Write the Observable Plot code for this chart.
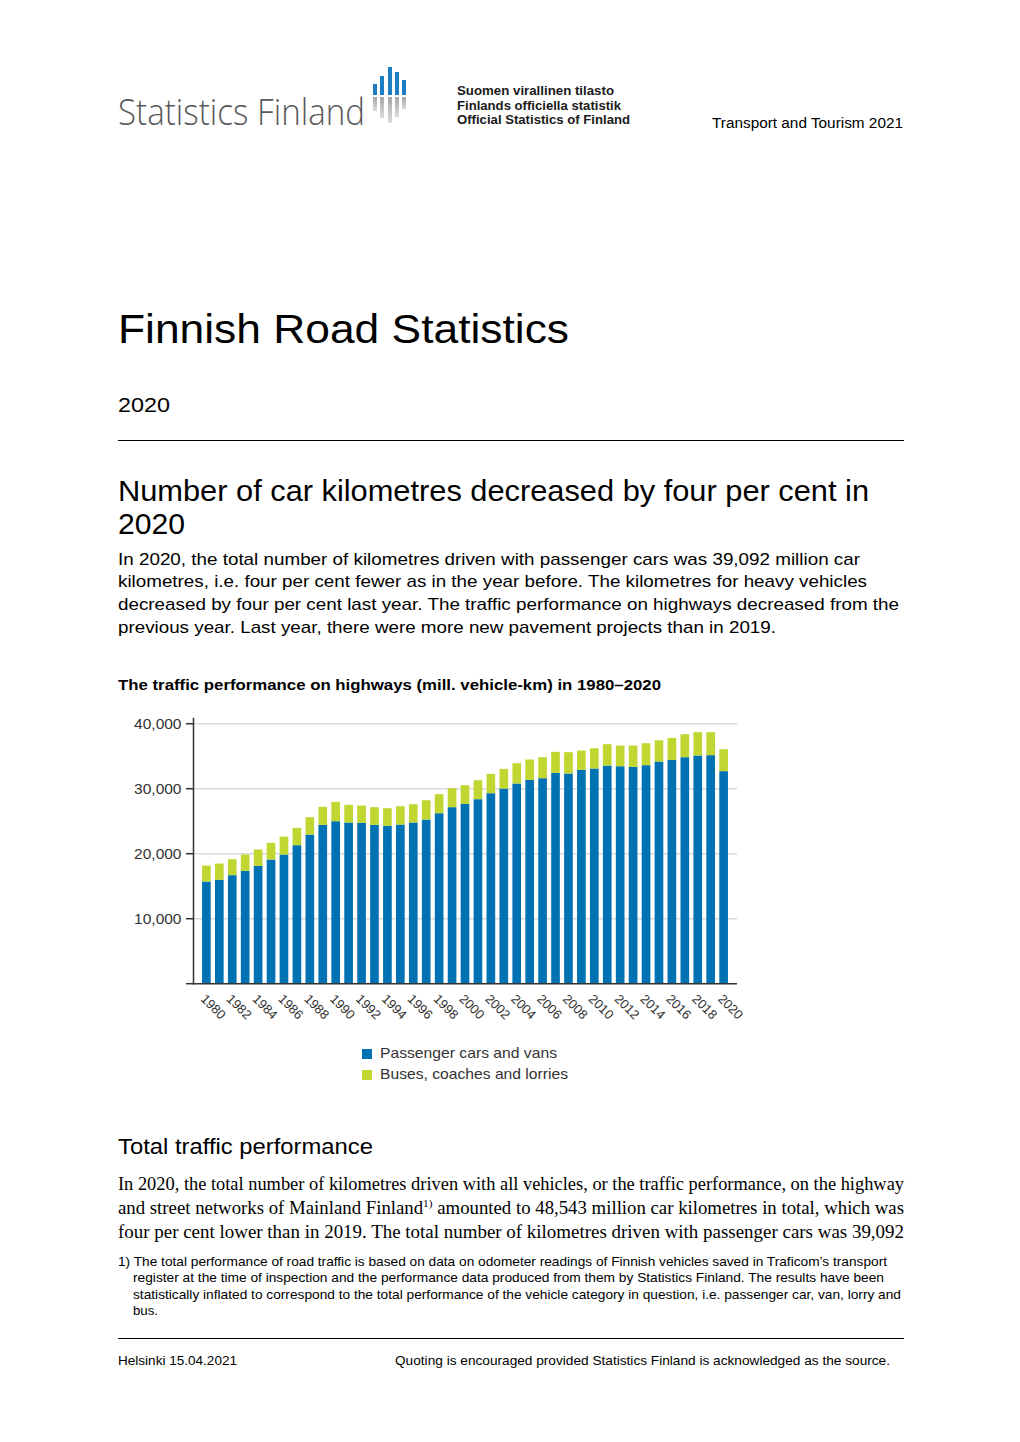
<!DOCTYPE html>
<html>
<head>
<meta charset="utf-8">
<script src="https://cdn.jsdelivr.net/npm/d3@7"></script>
<script src="https://cdn.jsdelivr.net/npm/@observablehq/plot@0.6"></script>
<style>
  html, body { margin: 0; padding: 0; background: #fff; }
  body { width: 1020px; height: 1442px; position: relative; overflow: hidden;
         font-family: "Liberation Sans", Arial, sans-serif; color: #000; }
  .abs { position: absolute; left: 118px; white-space: nowrap; }
  .rule { position: absolute; left: 118px; width: 786px; height: 0; border-top: 1px solid #000; }
  .fit { display: inline-block; white-space: nowrap; transform-origin: 0 0; }
  .logo-bar { position: absolute; width: 4px; }
  .legend-row { position: absolute; left: 362px; font-size: 14.5px; line-height: 21px; color: #333; white-space: nowrap; }
  .legend-row .sw { display: inline-block; width: 10px; height: 10px; margin-right: 8px; vertical-align: -1px; }
  sup { font-size: 60%; line-height: 0; vertical-align: 0; position: relative; top: -0.6em; }
</style>
</head>
<body>

<!-- Header -->
<div class="abs" style="top:92px; font-family:'Open Sans',sans-serif; font-weight:300; font-size:36px; line-height:40px; color:#58595b;">
  <span class="fit" data-w="247">Statistics Finland</span>
</div>
<div id="logo-bars"></div>
<div class="abs" style="left:457px; top:84px; font-family:'Liberation Sans',Arial,sans-serif; font-weight:700; font-size:13px; line-height:14.7px; color:#1a1a1a;">
  <div><span class="fit" data-w="157">Suomen virallinen tilasto</span></div>
  <div><span class="fit" data-w="164">Finlands officiella statistik</span></div>
  <div><span class="fit" data-w="173">Official Statistics of Finland</span></div>
</div>
<div class="abs" style="left:712px; top:115px; font-size:14px; line-height:16px;"><span class="fit" data-w="191">Transport and Tourism 2021</span></div>

<!-- Title -->
<div class="abs" style="top:306px; font-size:40px; line-height:46px;"><span class="fit" data-w="451">Finnish Road Statistics</span></div>
<div class="abs" style="top:392.7px; font-size:21px; line-height:24px;"><span class="fit" data-w="52">2020</span></div>
<div class="rule" style="top:440px;"></div>

<div class="abs" style="top:474px; font-size:30px; line-height:33px;">
  <div><span class="fit" data-w="751">Number of car kilometres decreased by four per cent in</span></div>
  <div><span class="fit" data-w="67">2020</span></div>
</div>
<div class="abs" style="top:548.8px; font-size:17px; line-height:22.6px;">
  <div><span class="fit" data-w="742">In 2020, the total number of kilometres driven with passenger cars was 39,092 million car</span></div>
  <div><span class="fit" data-w="749">kilometres, i.e. four per cent fewer as in the year before. The kilometres for heavy vehicles</span></div>
  <div><span class="fit" data-w="781">decreased by four per cent last year. The traffic performance on highways decreased from the</span></div>
  <div><span class="fit" data-w="658">previous year. Last year, there were more new pavement projects than in 2019.</span></div>
</div>

<div class="abs" style="top:675.8px; font-size:15px; line-height:18px; font-weight:bold;"><span class="fit" data-w="543">The traffic performance on highways (mill. vehicle-km) in 1980–2020</span></div>

<div id="chart" style="position:absolute; left:118px; top:703.1px;"></div>
<div id="legend"></div>

<div class="abs" style="top:1134.4px; font-size:22px; line-height:26px;"><span class="fit" data-w="255">Total traffic performance</span></div>
<div class="abs" style="top:1172px; font-family:'Liberation Serif','Times New Roman',serif; font-size:19px; line-height:24px;">
  <div><span class="fit" data-w="786">In 2020, the total number of kilometres driven with all vehicles, or the traffic performance, on the highway</span></div>
  <div><span class="fit" data-w="786">and street networks of Mainland Finland<sup>1)</sup> amounted to 48,543 million car kilometres in total, which was</span></div>
  <div><span class="fit" data-w="786">four per cent lower than in 2019. The total number of kilometres driven with passenger cars was 39,092</span></div>
</div>

<div class="abs" style="top:1253.8px; font-size:13px; line-height:16.4px; color:#000;">
  <div><span class="fit" data-w="769">1) The total performance of road traffic is based on data on odometer readings of Finnish vehicles saved in Traficom’s transport</span></div>
  <div style="padding-left:15px;"><span class="fit" data-w="751">register at the time of inspection and the performance data produced from them by Statistics Finland. The results have been</span></div>
  <div style="padding-left:15px;"><span class="fit" data-w="768">statistically inflated to correspond to the total performance of the vehicle category in question, i.e. passenger car, van, lorry and</span></div>
  <div style="padding-left:15px;"><span class="fit" data-w="25">bus.</span></div>
</div>
<div class="rule" style="top:1338px;"></div>
<div class="abs" style="top:1352.5px; font-size:13px; line-height:16px;"><span class="fit" data-w="119">Helsinki 15.04.2021</span></div>
<div class="abs" style="left:395px; top:1352.5px; font-size:13px; line-height:16px;"><span class="fit" data-w="495">Quoting is encouraged provided Statistics Finland is acknowledged as the source.</span></div>

<script>
// ---- Data ----
const years = ["1980","1981","1982","1983","1984","1985","1986","1987","1988","1989",
  "1990","1991","1992","1993","1994","1995","1996","1997","1998","1999",
  "2000","2001","2002","2003","2004","2005","2006","2007","2008","2009",
  "2010","2011","2012","2013","2014","2015","2016","2017","2018","2019","2020"];
const passengerCars = [15640,15900,16620,17280,18050,19030,19790,21230,22870,24360,
  24920,24720,24670,24360,24210,24410,24720,25180,26150,27080,
  27590,28310,29230,29950,30720,31280,31540,32360,32260,32820,
  33030,33490,33380,33280,33540,34100,34360,34770,35030,35080,32620];
const heavyVehicles = [2460,2510,2460,2510,2510,2560,2770,2670,2670,2770,
  2980,2720,2660,2720,2710,2820,2820,2970,2930,2920,
  2870,2920,2980,3020,3130,3130,3230,3230,3280,2970,
  3120,3280,3180,3280,3380,3280,3380,3540,3590,3540,3380];
const seriesNames = ["Passenger cars and vans", "Buses, coaches and lorries"];
const seriesColors = ["#0071b3", "#c1d631"];
const legendWidths = [177, 188];
const xTickYears = ["1980","1982","1984","1986","1988","1990","1992","1994","1996","1998",
  "2000","2002","2004","2006","2008","2010","2012","2014","2016","2018","2020"];
const yTicks = [0, 10000, 20000, 30000, 40000];

// logo decoration (not data)
const logoBars = [
  {x: 373, blueTop: 84, greyBottom: 111},
  {x: 380, blueTop: 76, greyBottom: 118},
  {x: 388, blueTop: 67, greyBottom: 123},
  {x: 395, blueTop: 72, greyBottom: 117},
  {x: 402, blueTop: 80, greyBottom: 109}
];
const lb = document.getElementById("logo-bars");
logoBars.forEach(b => {
  const blue = document.createElement("div");
  blue.className = "logo-bar";
  blue.style.cssText = `left:${b.x}px; top:${b.blueTop}px; height:${95 - b.blueTop}px; background:#1a7cc1;`;
  lb.appendChild(blue);
  const grey = document.createElement("div");
  grey.className = "logo-bar";
  grey.style.cssText = `left:${b.x}px; top:97px; height:${b.greyBottom - 97}px; background:linear-gradient(#a6a6a6,#dcdcdc);`;
  lb.appendChild(grey);
});

// ---- Chart ----
const rows = [];
years.forEach((y, i) => {
  rows.push({year: y, series: seriesNames[0], value: passengerCars[i]});
  rows.push({year: y, series: seriesNames[1], value: heavyVehicles[i]});
});

const fmt = d3.format(",");
const chart = Plot.plot({
  width: 640,
  height: 330,
  marginLeft: 75,
  marginRight: 21,
  marginTop: 15,
  marginBottom: 49.8,
  style: {fontFamily: "'Liberation Sans', Arial, sans-serif", fontSize: "14.5px", color: "#333", background: "white", overflow: "visible"},
  x: {type: "band", domain: years, paddingInner: 0.33, paddingOuter: 0.7, label: null},
  y: {domain: [0, 40800], label: null},
  color: {domain: seriesNames, range: seriesColors},
  marks: [
    Plot.gridY([10000, 20000, 30000, 40000], {stroke: "#d9d9d9", strokeOpacity: 1, strokeWidth: 1.5}),
    Plot.barY(rows, {x: "year", y: "value", fill: "series", order: seriesNames}),
    Plot.axisY({ticks: yTicks, tickSize: 7, tickPadding: 5, tickFormat: d => d === 0 ? "" : fmt(d), stroke: "#333", strokeWidth: 1.5, fontSize: 15.5, fill: "#333", label: null}),
    Plot.axisX({ticks: xTickYears, tickSize: 0, tickPadding: 13, tickRotate: 45, fontSize: 13, fill: "#333", label: null, dx: -4}),
    Plot.frame({anchor: "left", stroke: "#333", strokeWidth: 1.5}),
    Plot.ruleY([0], {stroke: "#333", strokeWidth: 1.5})
  ]
});
document.getElementById("chart").appendChild(chart);

// legend built from the chart's color scale
const colorScale = chart.scale("color");
const legend = document.getElementById("legend");
colorScale.domain.forEach((name, i) => {
  const row = document.createElement("div");
  row.className = "legend-row";
  row.style.top = (1042.5 + i * 21) + "px";
  const sw = document.createElement("span");
  sw.className = "sw";
  sw.style.background = colorScale.range[i];
  row.appendChild(sw);
  const label = document.createElement("span");
  label.className = "fit";
  label.dataset.w = legendWidths[i];
  label.textContent = name;
  row.appendChild(label);
  legend.appendChild(row);
});

// fit selected text lines to the widths they have in the reference
document.querySelectorAll(".fit").forEach(el => {
  const target = +el.dataset.w;
  const w = el.getBoundingClientRect().width;
  if (w > 0) el.style.transform = `scaleX(${target / w})`;
});
</script>
</body>
</html>
